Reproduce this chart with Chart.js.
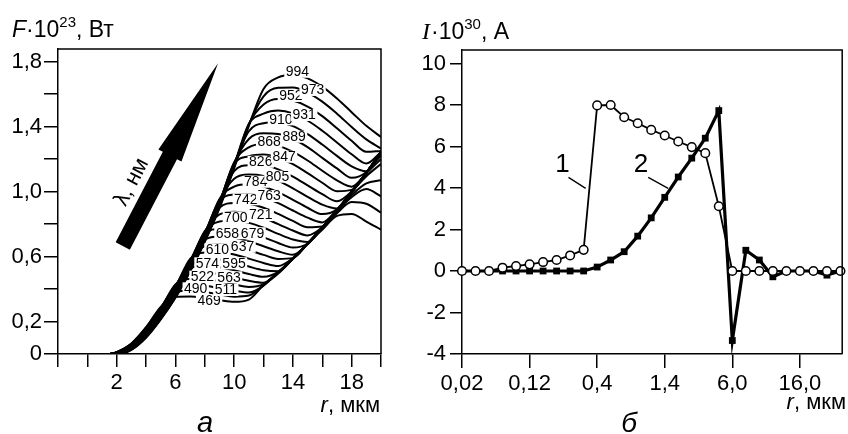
<!DOCTYPE html>
<html><head><meta charset="utf-8">
<script src="https://cdn.jsdelivr.net/npm/chart.js@4.4.1/dist/chart.umd.min.js"></script>
<style>
html,body{margin:0;padding:0;background:#fff;}
#wrap{position:relative;width:848px;height:434px;overflow:hidden;background:#fff;}
#cA{position:absolute;left:0;top:0;}
#cB{position:absolute;left:410px;top:0;}
</style></head><body>
<div id="wrap"><canvas id="cA" width="410" height="434"></canvas><canvas id="cB" width="438" height="434"></canvas></div>
<script>
// ---------- panel a: F(r) for different wavelengths ----------
const radius = [-2, 1.5, 2, 3, 4, 5, 6, 7, 8, 9, 10, 11, 12, 13, 14, 15, 16, 17, 18, 19, 20];
const curve469 = [0,0,0.012,0.065,0.165,0.29,0.352,0.354,0.344,0.331,0.321,0.335,0.425,0.503,0.587,0.679,0.765,0.85,0.862,0.815,0.765];
const curve490 = [0,0,0.011,0.063,0.162,0.287,0.381,0.389,0.381,0.366,0.353,0.36,0.425,0.503,0.587,0.679,0.777,0.866,0.935,0.925,0.87];
const curve511 = [0,0,0.011,0.062,0.16,0.284,0.409,0.425,0.42,0.405,0.389,0.378,0.42,0.503,0.587,0.679,0.777,0.877,0.965,1.015,0.97];
const curve522 = [0,0,0.01,0.06,0.157,0.281,0.428,0.461,0.46,0.447,0.428,0.413,0.43,0.503,0.587,0.679,0.777,0.883,0.978,1.05,1.07];
const curve563 = [0,0,0.01,0.058,0.154,0.278,0.425,0.496,0.501,0.49,0.471,0.451,0.439,0.495,0.587,0.679,0.777,0.883,0.996,1.094,1.17];
const curve574 = [0,0,0.009,0.057,0.152,0.274,0.421,0.529,0.542,0.534,0.515,0.492,0.475,0.505,0.587,0.679,0.777,0.883,0.996,1.111,1.2];
const curve595 = [0,0,0.009,0.055,0.149,0.271,0.417,0.562,0.584,0.581,0.563,0.538,0.516,0.51,0.587,0.679,0.777,0.883,0.996,1.115,1.222];
const curve610 = [0,0,0.008,0.053,0.147,0.268,0.413,0.585,0.625,0.627,0.612,0.587,0.56,0.541,0.59,0.679,0.777,0.883,0.996,1.115,1.238];
const curve637 = [0,0,0.007,0.052,0.144,0.265,0.409,0.58,0.664,0.675,0.664,0.639,0.61,0.585,0.59,0.679,0.777,0.883,0.996,1.115,1.242];
const curve658 = [0,0,0.007,0.05,0.141,0.262,0.405,0.576,0.703,0.723,0.716,0.694,0.663,0.632,0.611,0.675,0.777,0.883,0.996,1.115,1.242];
const curve679 = [0,0,0.006,0.048,0.139,0.259,0.402,0.572,0.739,0.769,0.769,0.749,0.718,0.683,0.655,0.68,0.777,0.883,0.996,1.115,1.242];
const curve700 = [0,0,0.006,0.047,0.136,0.256,0.398,0.567,0.757,0.815,0.822,0.807,0.777,0.739,0.705,0.69,0.775,0.883,0.996,1.115,1.242];
const curve721 = [0,0,0.005,0.045,0.133,0.253,0.394,0.563,0.752,0.859,0.876,0.866,0.838,0.799,0.76,0.73,0.78,0.883,0.996,1.115,1.242];
const curve742 = [0,0,0.005,0.043,0.131,0.249,0.39,0.559,0.748,0.9,0.929,0.925,0.9,0.862,0.819,0.78,0.785,0.883,0.996,1.115,1.242];
const curve763 = [0,0,0.004,0.042,0.128,0.246,0.386,0.555,0.743,0.941,0.981,0.985,0.965,0.929,0.883,0.839,0.81,0.89,0.996,1.115,1.242];
const curve784 = [0,0,0.003,0.04,0.125,0.243,0.382,0.55,0.738,0.954,1.03,1.044,1.03,0.996,0.949,0.9,0.861,0.89,0.996,1.115,1.242];
const curve805 = [0,0,0.003,0.038,0.123,0.24,0.379,0.546,0.733,0.948,1.079,1.104,1.096,1.065,1.02,0.967,0.919,0.895,0.996,1.115,1.242];
const curve826 = [0,0,0.002,0.036,0.12,0.237,0.375,0.542,0.728,0.942,1.125,1.161,1.161,1.136,1.092,1.038,0.984,0.94,1.0,1.115,1.242];
const curve847 = [0,0,0.002,0.035,0.118,0.234,0.371,0.537,0.724,0.936,1.169,1.217,1.227,1.208,1.168,1.113,1.054,1.002,1.01,1.115,1.242];
const curve868 = [0,0,0.001,0.033,0.115,0.231,0.367,0.533,0.719,0.931,1.181,1.272,1.293,1.281,1.244,1.191,1.128,1.069,1.03,1.115,1.242];
const curve889 = [0,0,0,0.031,0.112,0.228,0.363,0.529,0.714,0.925,1.175,1.323,1.358,1.354,1.323,1.273,1.207,1.142,1.084,1.12,1.242];
const curve910 = [0,0,0,0.03,0.11,0.225,0.359,0.524,0.709,0.919,1.169,1.371,1.42,1.426,1.402,1.353,1.289,1.219,1.155,1.125,1.242];
const curve931 = [0,0,0,0.029,0.108,0.222,0.356,0.52,0.705,0.914,1.163,1.415,1.479,1.498,1.481,1.437,1.374,1.302,1.229,1.172,1.242];
const curve952 = [0,0,0,0.028,0.105,0.219,0.353,0.516,0.7,0.909,1.157,1.416,1.535,1.569,1.56,1.523,1.464,1.389,1.312,1.244,1.25];
const curve973 = [0,0,0,0.027,0.103,0.216,0.349,0.512,0.696,0.903,1.15,1.41,1.586,1.638,1.64,1.609,1.553,1.479,1.397,1.321,1.265];
const curve994 = [0,0,0,0.026,0.101,0.213,0.346,0.508,0.691,0.898,1.144,1.404,1.631,1.702,1.718,1.696,1.645,1.572,1.488,1.404,1.335];

const lambdaLabels = ['469','490','511','522','563','574','595','610','637','658','679','700','721','742','763','784','805','826','847','868','889','910','931','952','973','994'];
const allCurves = [curve469,curve490,curve511,curve522,curve563,curve574,curve595,curve610,curve637,curve658,curve679,curve700,curve721,curve742,curve763,curve784,curve805,curve826,curve847,curve868,curve889,curve910,curve931,curve952,curve973,curve994];
// label anchors (data units r, F)
const labelAnchorR = [8.29,7.38,9.43,7.84,9.65,8.18,9.99,8.86,10.57,9.54,11.25,10.11,11.81,10.79,12.38,11.47,12.95,11.81,13.40,12.38,14.08,13.18,14.77,13.86,15.34,14.31];
const labelAnchorF = [0.328,0.404,0.394,0.476,0.472,0.558,0.558,0.644,0.660,0.743,0.743,0.841,0.855,0.952,0.972,1.060,1.091,1.183,1.214,1.306,1.337,1.444,1.471,1.588,1.625,1.737];
const leftXLabelled = [2, 6, 10, 14, 18];
const leftYValues = [0, 0.2, 0.6, 1.0, 1.4, 1.8];
const leftYText = ['0', '0,2', '0,6', '1,0', '1,4', '1,8'];
// arrow (data units): tail centre and tip
const arrowTail = [2.41, 0.665];
const arrowTip = [8.9, 1.789];

// ---------- panel б: I(r) ----------
const pointIndex = [0,1,2,3,4,5,6,7,8,9,10,11,12,13,14,15,16,17,18,19,20,21,22,23,24,25,26,27,28];
const xTickText = ['0,02', '0,12', '0,4', '1,4', '6,0', '16,0'];
const current1 = [0,0,0,0.16,0.24,0.32,0.43,0.53,0.75,1.02,7.98,8.0,7.41,7.12,6.8,6.53,6.24,5.97,5.68,3.12,0,0,0,0,0,0,0,0,0];
const current2 = [0,0,0,0,0,0,0,0,0,0,0.19,0.53,0.93,1.68,2.56,3.55,4.53,5.44,6.4,7.73,-3.35,1.0,0.53,-0.28,0,0,0,-0.2,0];

const FONT = '"Liberation Sans", Arial, sans-serif';
Chart.defaults.font.family = FONT;
Chart.defaults.color = '#000';

function frame(chart){
  const {ctx, chartArea:a} = chart;
  ctx.save();
  ctx.strokeStyle = '#000'; ctx.lineWidth = 1.5;
  ctx.beginPath();
  ctx.moveTo(a.left, a.top); ctx.lineTo(a.right, a.top); ctx.lineTo(a.right, a.bottom);
  ctx.stroke();
  ctx.restore();
}

const leftDecor = {
  id: 'leftDecor',
  afterDatasetsDraw(chart){
    const ctx = chart.ctx, xs = chart.scales.x, ys = chart.scales.y;
    ctx.save();
    // curve labels
    ctx.font = '14px ' + FONT;
    ctx.textAlign = 'center'; ctx.textBaseline = 'middle';
    for (let i = 0; i < lambdaLabels.length; i++) {
      const px = xs.getPixelForValue(labelAnchorR[i]);
      const py = ys.getPixelForValue(labelAnchorF[i]);
      const w = ctx.measureText(lambdaLabels[i]).width;
      ctx.fillStyle = '#fff';
      ctx.fillRect(px - w/2 - 1.5, py - 6, w + 3, 12);
      ctx.fillStyle = '#000';
      ctx.fillText(lambdaLabels[i], px, py + 0.5);
    }
    // arrow
    const tx = xs.getPixelForValue(arrowTail[0]), ty = ys.getPixelForValue(arrowTail[1]);
    const hx = xs.getPixelForValue(arrowTip[0]), hy = ys.getPixelForValue(arrowTip[1]);
    const dx = hx - tx, dy = hy - ty, L = Math.hypot(dx, dy);
    const ux = dx / L, uy = dy / L, nx = -uy, ny = ux;
    const headLen = 104, sh = 8, hh = 13;
    const bx = hx - ux * headLen, by = hy - uy * headLen;
    ctx.fillStyle = '#000';
    ctx.beginPath();
    ctx.moveTo(tx + nx*sh, ty + ny*sh);
    ctx.lineTo(bx + nx*sh, by + ny*sh);
    ctx.lineTo(bx + nx*hh, by + ny*hh);
    ctx.lineTo(hx, hy);
    ctx.lineTo(bx - nx*hh, by - ny*hh);
    ctx.lineTo(bx - nx*sh, by - ny*sh);
    ctx.lineTo(tx - nx*sh, ty - ny*sh);
    ctx.closePath(); ctx.fill();
    // arrow text
    const cx = xs.getPixelForValue(3.02), cy = ys.getPixelForValue(1.058);
    ctx.save();
    ctx.translate(cx, cy); ctx.rotate(Math.atan2(dy, dx));
    ctx.font = '22px ' + FONT; ctx.textAlign = 'center'; ctx.textBaseline = 'middle';
    ctx.fillText('λ, нм', 0, 0);
    ctx.restore();
    ctx.restore();
  },
  afterDraw(chart){
    frame(chart);
    const ctx = chart.ctx;
    ctx.save();
    ctx.fillStyle = '#000'; ctx.textBaseline = 'alphabetic'; ctx.textAlign = 'left';
    // y title
    let x = 12; const base = 37;
    ctx.font = 'italic 23px ' + FONT; ctx.fillText('F', x, base); x += ctx.measureText('F').width;
    ctx.font = '23px ' + FONT; ctx.fillText('·10', x, base); x += ctx.measureText('·10').width;
    ctx.font = '15px ' + FONT; ctx.fillText('23', x, base - 10); x += ctx.measureText('23').width;
    ctx.font = '23px ' + FONT; ctx.fillText(', Вт', x, base);
    // x title
    ctx.textAlign = 'right';
    ctx.font = '22px ' + FONT; const t2 = ', мкм'; ctx.fillText(t2, 380, 412);
    const w2 = ctx.measureText(t2).width;
    ctx.font = 'italic 22px ' + FONT; ctx.fillText('r', 380 - w2, 412);
    // panel letter
    ctx.textAlign = 'center';
    ctx.font = 'italic 29px ' + FONT; ctx.fillText('а', 205, 432);
    ctx.restore();
  }
};

const rightDecor = {
  id: 'rightDecor',
  afterDatasetsDraw(chart){
    const ctx = chart.ctx, xs = chart.scales.x, ys = chart.scales.y;
    ctx.save();
    ctx.strokeStyle = '#000'; ctx.lineWidth = 1.3;
    ctx.beginPath();
    ctx.moveTo(xs.getPixelForValue(7.88), ys.getPixelForValue(4.51));
    ctx.lineTo(xs.getPixelForValue(9.15), ys.getPixelForValue(3.98));
    ctx.moveTo(xs.getPixelForValue(13.78), ys.getPixelForValue(4.51));
    ctx.lineTo(xs.getPixelForValue(15.25), ys.getPixelForValue(3.98));
    ctx.stroke();
    ctx.fillStyle = '#000'; ctx.font = '26px ' + FONT;
    ctx.textAlign = 'center'; ctx.textBaseline = 'middle';
    ctx.fillText('1', xs.getPixelForValue(7.44), ys.getPixelForValue(5.10));
    ctx.fillText('2', xs.getPixelForValue(13.25), ys.getPixelForValue(5.10));
    ctx.restore();
  },
  afterDraw(chart){
    frame(chart);
    const ctx = chart.ctx;
    ctx.save();
    ctx.fillStyle = '#000'; ctx.textBaseline = 'alphabetic'; ctx.textAlign = 'left';
    let x = 12; const base = 39;
    ctx.font = 'italic 24px "Liberation Serif", serif'; ctx.fillText('I', x, base); x += ctx.measureText('I').width + 1;
    ctx.font = '23px ' + FONT; ctx.fillText('·10', x, base); x += ctx.measureText('·10').width;
    ctx.font = '15px ' + FONT; ctx.fillText('30', x, base - 10); x += ctx.measureText('30').width;
    ctx.font = '23px ' + FONT; ctx.fillText(', A', x, base);
    ctx.textAlign = 'right';
    ctx.font = '22px ' + FONT; const t2 = ', мкм'; ctx.fillText(t2, 436, 409);
    const w2 = ctx.measureText(t2).width;
    ctx.font = 'italic 22px ' + FONT; ctx.fillText('r', 436 - w2, 409);
    ctx.textAlign = 'center';
    ctx.font = 'italic 28px ' + FONT; ctx.fillText('б', 219, 432);
    ctx.restore();
  }
};

new Chart(document.getElementById('cA'), {
  type: 'line',
  data: {
    datasets: allCurves.map((c, k) => ({
      label: lambdaLabels[k],
      data: radius.map((r, i) => ({x: r, y: c[i]})),
      borderColor: '#000', borderWidth: 2, pointRadius: 0,
      cubicInterpolationMode: 'monotone', fill: false
    }))
  },
  options: {
    responsive: false, animation: false, devicePixelRatio: 1,
    layout: {padding: {left: 0, right: 29, top: 49, bottom: 0}},
    plugins: {legend: {display: false}, tooltip: {enabled: false}},
    scales: {
      x: {
        type: 'linear', min: -2, max: 20,
        afterFit(s){ s.height = 80; },
        grid: {drawOnChartArea: false, drawTicks: true, tickLength: 13, color: '#000', lineWidth: 1.5},
        border: {display: true, color: '#000', width: 1.5},
        ticks: {stepSize: 2, autoSkip: false, maxRotation: 0, padding: 3, font: {size: 22, family: FONT}, color: '#000',
          callback: v => leftXLabelled.includes(Math.round(v)) ? String(Math.round(v)) : ''}
      },
      y: {
        type: 'linear', min: 0, max: 1.877,
        afterFit(s){ s.width = 58; },
        grid: {drawOnChartArea: false, drawTicks: true, tickLength: 14, color: '#000', lineWidth: 1.5},
        border: {display: true, color: '#000', width: 1.5},
        ticks: {stepSize: 0.2, includeBounds: false, autoSkip: false, padding: 2, font: {size: 22, family: FONT}, color: '#000',
          callback: v => { const j = leftYValues.findIndex(t => Math.abs(t - v) < 1e-6); return j >= 0 ? leftYText[j] : ''; }}
      }
    }
  },
  plugins: [leftDecor]
});

new Chart(document.getElementById('cB'), {
  type: 'line',
  data: {
    datasets: [
      {label: '1', data: pointIndex.map(i => ({x: i, y: current1[i]})), borderColor: '#000', borderWidth: 1.8,
       pointStyle: 'circle', pointRadius: 4.3, pointBorderWidth: 1.5, pointBackgroundColor: '#fff', pointBorderColor: '#000', tension: 0},
      {label: '2', data: pointIndex.map(i => ({x: i, y: current2[i]})), borderColor: '#000', borderWidth: 3.2,
       pointStyle: 'rect', pointRadius: 4.8, pointBorderWidth: 0, pointBackgroundColor: '#000', pointBorderColor: '#000', tension: 0}
    ]
  },
  options: {
    responsive: false, animation: false, devicePixelRatio: 1,
    layout: {padding: {left: 0, right: 2, top: 50, bottom: 0}},
    plugins: {legend: {display: false}, tooltip: {enabled: false}},
    clip: false,
    scales: {
      x: {
        type: 'linear', min: 0, max: 28.13,
        afterFit(s){ s.height = 80; },
        grid: {drawOnChartArea: false, drawTicks: true, tickLength: 14, color: '#000', lineWidth: 1.5},
        border: {display: true, color: '#000', width: 1.5},
        ticks: {stepSize: 5, includeBounds: false, autoSkip: false, maxRotation: 0, padding: 3, font: {size: 22, family: FONT}, color: '#000',
          callback: v => { const j = Math.round(v / 5); return (Math.abs(v - j*5) < 1e-6 && j < xTickText.length) ? xTickText[j] : ''; }}
      },
      y: {
        type: 'linear', min: -4, max: 10.65,
        afterFit(s){ s.width = 52; },
        grid: {drawOnChartArea: false, drawTicks: true, tickLength: 12, color: '#000', lineWidth: 1.5},
        border: {display: true, color: '#000', width: 1.5},
        ticks: {stepSize: 2, includeBounds: false, autoSkip: false, padding: 4, font: {size: 22, family: FONT}, color: '#000',
          callback: v => String(Math.round(v))}
      }
    }
  },
  plugins: [rightDecor]
});
</script>
</body></html>
